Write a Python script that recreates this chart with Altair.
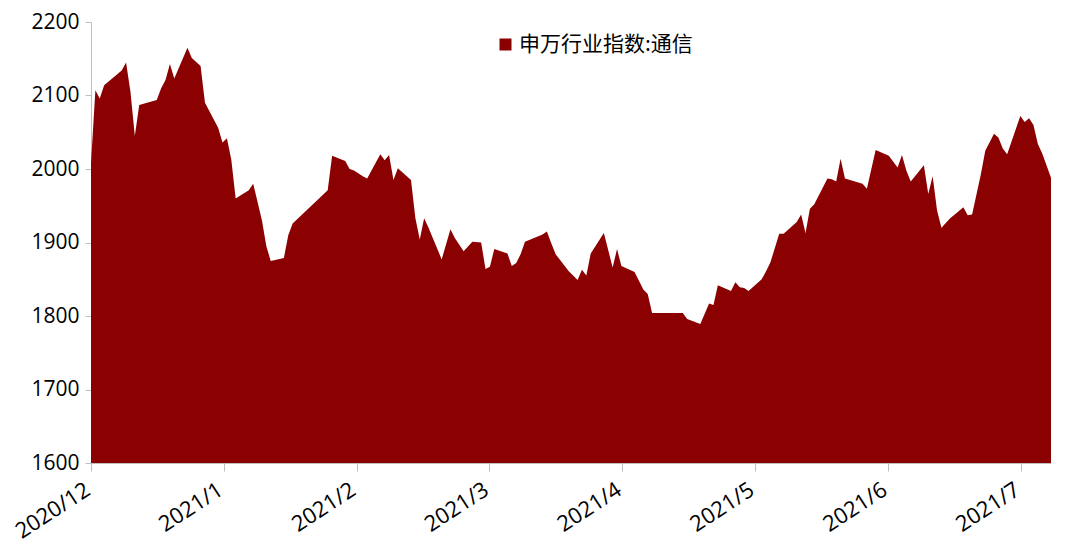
import altair as alt
import pandas as pd

series_name = "申万行业指数:通信"

dates = [
    "2020-12-01", "2020-12-02", "2020-12-03", "2020-12-04", "2020-12-08", "2020-12-09",
    "2020-12-10", "2020-12-11", "2020-12-12", "2020-12-16", "2020-12-17", "2020-12-18",
    "2020-12-19", "2020-12-20", "2020-12-23", "2020-12-24", "2020-12-26", "2020-12-27",
    "2020-12-30", "2020-12-31", "2021-01-01", "2021-01-02", "2021-01-03", "2021-01-06",
    "2021-01-07", "2021-01-09", "2021-01-10", "2021-01-11", "2021-01-14", "2021-01-15",
    "2021-01-16", "2021-01-24", "2021-01-25", "2021-01-28", "2021-01-29", "2021-01-30",
    "2021-02-01", "2021-02-02", "2021-02-05", "2021-02-06", "2021-02-07", "2021-02-08",
    "2021-02-09", "2021-02-12", "2021-02-13", "2021-02-14", "2021-02-15", "2021-02-16",
    "2021-02-19", "2021-02-21", "2021-02-22", "2021-02-24", "2021-02-26", "2021-02-28",
    "2021-03-01", "2021-03-02", "2021-03-03", "2021-03-06", "2021-03-07", "2021-03-08",
    "2021-03-09", "2021-03-10", "2021-03-14", "2021-03-15", "2021-03-16", "2021-03-17",
    "2021-03-20", "2021-03-22", "2021-03-23", "2021-03-24", "2021-03-25", "2021-03-28",
    "2021-03-30", "2021-03-31", "2021-04-01", "2021-04-04", "2021-04-06", "2021-04-07",
    "2021-04-08", "2021-04-15", "2021-04-16", "2021-04-19", "2021-04-20", "2021-04-21",
    "2021-04-22", "2021-04-23", "2021-04-26", "2021-04-27", "2021-04-28", "2021-04-29",
    "2021-04-30", "2021-05-03", "2021-05-04", "2021-05-05", "2021-05-07", "2021-05-08",
    "2021-05-11", "2021-05-12", "2021-05-13", "2021-05-14", "2021-05-15", "2021-05-18",
    "2021-05-19", "2021-05-20", "2021-05-21", "2021-05-22", "2021-05-26", "2021-05-27",
    "2021-05-29", "2021-06-01", "2021-06-03", "2021-06-04", "2021-06-05", "2021-06-06",
    "2021-06-09", "2021-06-10", "2021-06-11", "2021-06-12", "2021-06-13", "2021-06-15",
    "2021-06-17", "2021-06-18", "2021-06-19", "2021-06-20", "2021-06-22", "2021-06-23",
    "2021-06-25", "2021-06-26", "2021-06-27", "2021-06-28", "2021-07-01", "2021-07-02",
    "2021-07-03", "2021-07-04", "2021-07-05", "2021-07-06", "2021-07-08",
]

values = [
    2008, 2107, 2096, 2114, 2134, 2145,
    2105, 2045, 2087, 2094, 2110, 2121,
    2143, 2123, 2165, 2151, 2140, 2090,
    2056, 2036, 2042, 2013, 1960, 1971,
    1980, 1930, 1895, 1875, 1879, 1910,
    1926, 1971, 2018, 2011, 2000, 1998,
    1990, 1987, 2020, 2012, 2019, 1985,
    2001, 1985, 1933, 1904, 1933, 1920,
    1877, 1918, 1906, 1888, 1901, 1900,
    1864, 1867, 1891, 1885, 1868, 1872,
    1884, 1901, 1911, 1915, 1899, 1884,
    1861, 1849, 1863, 1855, 1885, 1913,
    1866, 1891, 1868, 1860, 1836, 1830,
    1804, 1804, 1796, 1789, 1803, 1817,
    1815, 1842, 1834, 1846, 1839, 1838,
    1834, 1850, 1861, 1873, 1912, 1912,
    1928, 1938, 1913, 1946, 1952, 1987,
    1986, 1983, 2014, 1987, 1980, 1973,
    2026, 2018, 2002, 2019, 1998, 1983,
    2005, 1966, 1990, 1944, 1920, 1933,
    1943, 1948, 1937, 1938, 1993, 2025,
    2048, 2043, 2028, 2020, 2072, 2064,
    2069, 2060, 2034, 2021, 1988,
]

month_labels = ["2020/12", "2021/1", "2021/2", "2021/3", "2021/4", "2021/5", "2021/6", "2021/7"]
y_ticks = [1600, 1700, 1800, 1900, 2000, 2100, 2200]

start = pd.Timestamp("2020-12-01")
df = pd.DataFrame({"date": dates, "value": values})
df["day"] = (pd.to_datetime(df["date"]) - start).dt.days
df["series"] = series_name

last_day = int(df["day"].max())
step = 30.3
tick_vals = [round(i * step, 2) for i in range(len(month_labels))]
label_expr = "[" + ",".join("'" + m + "'" for m in month_labels) + "][round(datum.value / " + str(step) + ")]"

RED = "#8B0000"
AXIS_GRAY = "#BFBFBF"
NUM_FONT = "Open Sans"

chart = (
    alt.Chart(df)
    .mark_area(interpolate="linear")
    .encode(
        x=alt.X(
            "day:Q",
            scale=alt.Scale(domain=[0, last_day], nice=False, zero=False),
            axis=alt.Axis(
                values=tick_vals,
                labelExpr=label_expr,
                title=None,
                grid=False,
                labelAngle=-33,
                labelAlign="right",
                labelBaseline="top",
                tickSize=8,
                tickColor=AXIS_GRAY,
                domainColor=AXIS_GRAY,
                labelFont=NUM_FONT,
                labelFontSize=22,
                labelColor="black",
                labelPadding=8,
                labelOffset=-9,
                labelOverlap=False,
                labelBound=False,
                labelFlush=False,
            ),
        ),
        y=alt.Y(
            "value:Q",
            scale=alt.Scale(domain=[1600, 2200], nice=False, zero=False),
            axis=alt.Axis(
                values=y_ticks,
                format="d",
                title=None,
                grid=False,
                tickSize=6,
                tickColor=AXIS_GRAY,
                domainColor=AXIS_GRAY,
                labelFont=NUM_FONT,
                labelFontSize=21,
                labelColor="black",
                labelPadding=6,
                labelFlush=False,
                labelOverlap=False,
            ),
        ),
        y2=alt.datum(1600),
        color=alt.Color(
            "series:N",
            scale=alt.Scale(domain=[series_name], range=[RED]),
            legend=alt.Legend(
                title=None,
                orient="none",
                legendX=404,
                legendY=12,
                symbolType="square",
                symbolSize=144,
                symbolStrokeWidth=0,
                symbolOpacity=1,
                labelFont="Noto Sans CJK SC",
                labelFontSize=21,
                labelColor="black",
                labelOffset=3,
                labelLimit=0,
            ),
        ),
    )
    .properties(
        width=960,
        height=441,
        padding={"left": 83, "top": 14, "right": 14, "bottom": 84},
        autosize=alt.AutoSizeParams(type="none"),
    )
    .configure_view(stroke=None)
)

chart.save("out.html", embed_options={"renderer": "svg", "actions": False})
